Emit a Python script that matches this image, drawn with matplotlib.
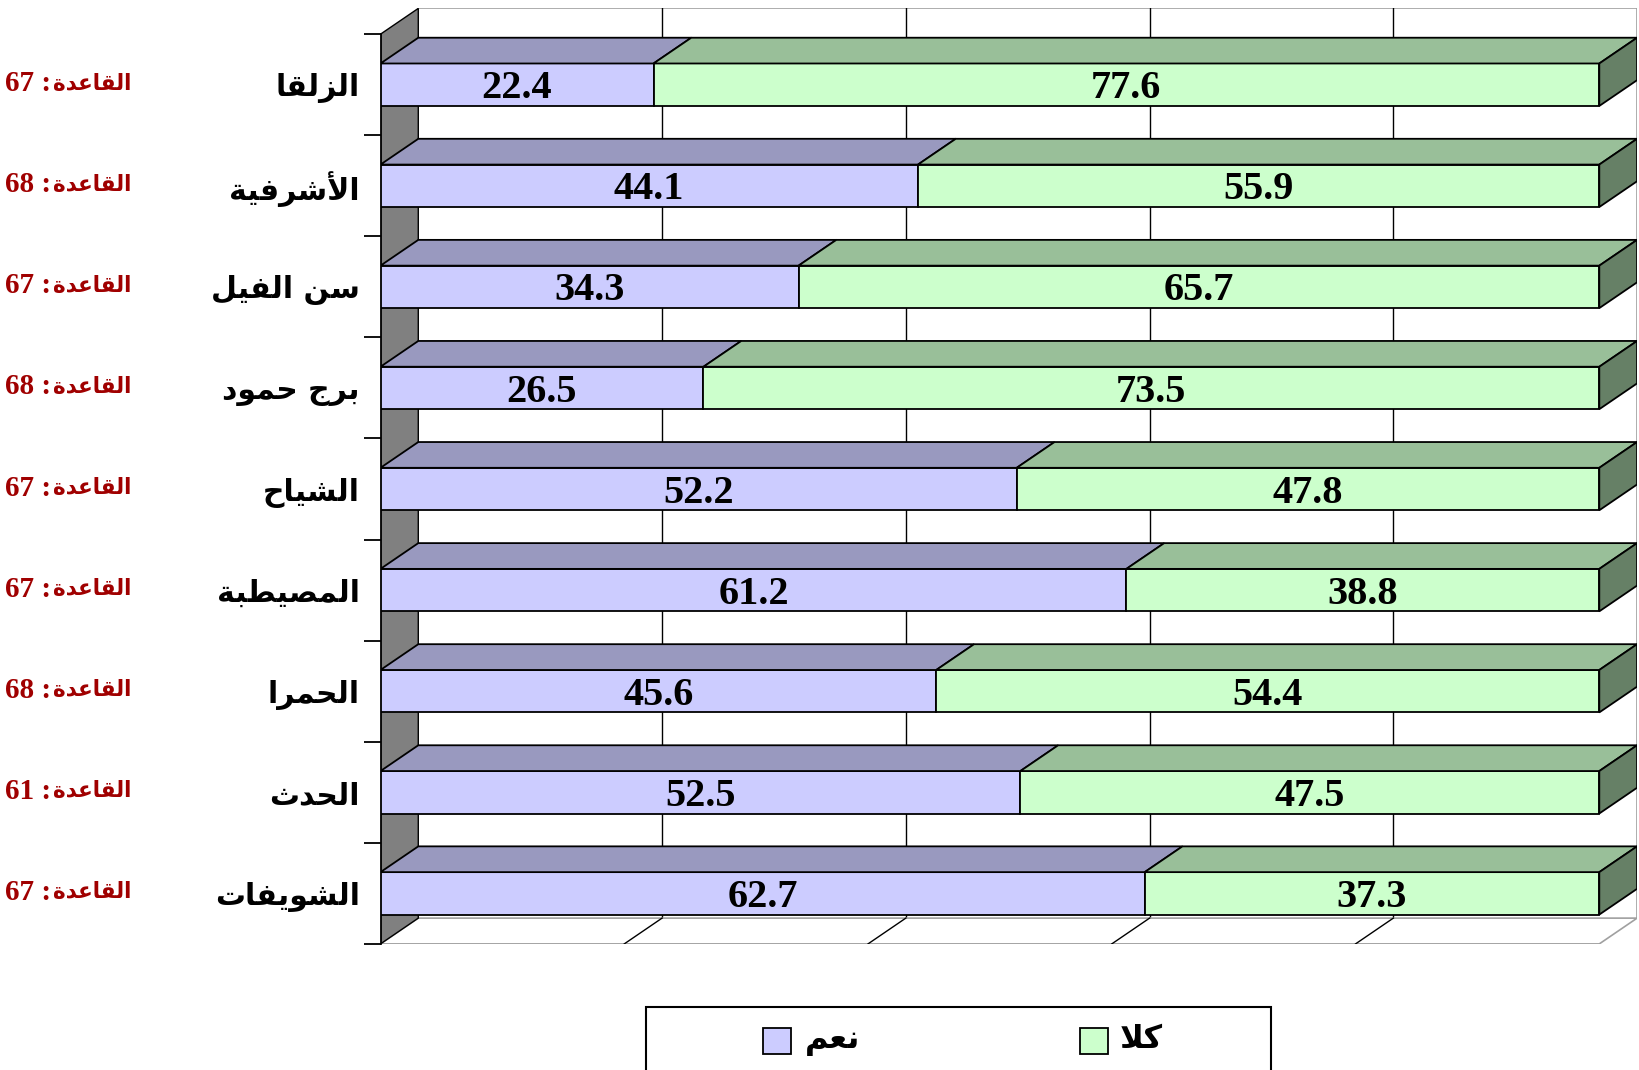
import numpy as np
import matplotlib
matplotlib.use('Agg')
from matplotlib import pyplot as plt
from matplotlib.patches import Polygon, Rectangle
from matplotlib import transforms


###########################################
#               Data
###########################################
categories = ['الزلقا', 'الأشرفية', 'سن الفيل', 'برج حمود', 'الشياح',
              'المصيطبة', 'الحمرا', 'الحدث', 'الشويفات']
yes_pct = [22.4, 44.1, 34.3, 26.5, 52.2, 61.2, 45.6, 52.5, 62.7]
no_pct = [77.6, 55.9, 65.7, 73.5, 47.8, 38.8, 54.4, 47.5, 37.3]
base_n = [67, 68, 67, 68, 67, 67, 68, 61, 67]
series_names = ['نعم', 'كلا']
base_word = 'القاعدة'

# colours (front face / top face / side face)
yes_front, yes_top = '#CCCCFF', '#9999BF'
no_front, no_top, no_side = '#CCFFCC', '#99BF99', '#668066'
wall_col = '#808080'
base_col = '#A00000'

###########################################
#   Arabic shaping (matplotlib has no bidi)
###########################################
# char -> (first presentation form, number of forms)
FORMS = {
    'آ': (0xFE81, 2), 'أ': (0xFE83, 2), 'إ': (0xFE87, 2), 'ا': (0xFE8D, 2),
    'ب': (0xFE8F, 4), 'ة': (0xFE93, 2), 'ت': (0xFE95, 4), 'ث': (0xFE99, 4),
    'ج': (0xFE9D, 4), 'ح': (0xFEA1, 4), 'خ': (0xFEA5, 4), 'د': (0xFEA9, 2),
    'ذ': (0xFEAB, 2), 'ر': (0xFEAD, 2), 'ز': (0xFEAF, 2), 'س': (0xFEB1, 4),
    'ش': (0xFEB5, 4), 'ص': (0xFEB9, 4), 'ض': (0xFEBD, 4), 'ط': (0xFEC1, 4),
    'ظ': (0xFEC5, 4), 'ع': (0xFEC9, 4), 'غ': (0xFECD, 4), 'ف': (0xFED1, 4),
    'ق': (0xFED5, 4), 'ك': (0xFED9, 4), 'ل': (0xFEDD, 4), 'م': (0xFEE1, 4),
    'ن': (0xFEE5, 4), 'ه': (0xFEE9, 4), 'و': (0xFEED, 2), 'ى': (0xFEEF, 2),
    'ي': (0xFEF1, 4),
}
LAMALEF = {'آ': 0xFEF5, 'أ': 0xFEF7, 'إ': 0xFEF9, 'ا': 0xFEFB}


def dual(c):
    return c in FORMS and FORMS[c][1] == 4


def shape(s):
    out = []
    i = 0
    while i < len(s):
        c = s[i]
        if c not in FORMS:
            out.append(c)
            i += 1
            continue
        left = i > 0 and dual(s[i-1])
        if c == 'ل' and i+1 < len(s) and s[i+1] in LAMALEF:
            out.append(chr(LAMALEF[s[i+1]] + (1 if left else 0)))
            i += 2
            continue
        right = dual(c) and i+1 < len(s) and s[i+1] in FORMS
        k = 3 if (left and right) else 2 if right else 1 if left else 0
        out.append(chr(FORMS[c][0] + k))
        i += 1
    return ''.join(reversed(out))


###########################################
#               Figure
###########################################
W, H = 1639, 1070
fig = plt.figure(figsize=(W/100, H/100), dpi=100)

n = len(categories)
y = np.arange(n)
DX = 3.1     # depth, x units
DY = 0.255   # depth, category units
BH = 0.42    # bar height

x0_px, x1_px = 380.5, 1599.3
top_px, bot_px = 8.4, 943.9
ppu = (x1_px - x0_px)/100
ax = fig.add_axes([x0_px/W, 1 - bot_px/H, (x1_px - x0_px + DX*ppu)/W, (bot_px - top_px)/H])
ax.set_xlim(0, 100 + DX)
ax.set_ylim(n - 0.5, -0.5 - DY)

yt, yb = -0.5, n - 0.5

# back wall
ax.add_patch(Rectangle((DX, yt - DY), 100, n, fc='white', ec='none', zorder=0))
ax.plot([DX, 100+DX, 100+DX], [yt-DY, yt-DY, yb-DY], color='#A0A0A0', lw=1.2, zorder=1)
for v in [20, 40, 60, 80]:
    ax.plot([v+DX, v+DX], [yt-DY, yb-DY], color='black', lw=1, zorder=1)

# floor
ax.add_patch(Polygon([(0, yb), (100, yb), (100+DX, yb-DY), (DX, yb-DY)],
                     closed=True, fc='white', ec='#A0A0A0', lw=1.2, zorder=1))
for v in [20, 40, 60, 80]:
    ax.plot([v, v+DX], [yb, yb-DY], color='black', lw=1, zorder=1)

# left wall
ax.add_patch(Polygon([(0, yt), (DX, yt-DY), (DX, yb-DY), (0, yb)],
                     closed=True, fc=wall_col, ec='black', lw=1, zorder=1))

# bars
yes_arr = np.array(yes_pct)
no_arr = np.array(no_pct)
ax.barh(y, yes_arr, height=BH, color=yes_front, edgecolor='black', lw=1.3, zorder=3)
ax.barh(y, no_arr, left=yes_arr, height=BH, color=no_front, edgecolor='black', lw=1.3, zorder=3)
for i in range(n):
    t = y[i] - BH/2
    b = y[i] + BH/2
    a, m, e = 0, yes_arr[i], yes_arr[i] + no_arr[i]
    ax.add_patch(Polygon([(a, t), (m, t), (m+DX, t-DY), (a+DX, t-DY)], closed=True,
                         fc=yes_top, ec='black', lw=1.3, zorder=3))
    ax.add_patch(Polygon([(m, t), (e, t), (e+DX, t-DY), (m+DX, t-DY)], closed=True,
                         fc=no_top, ec='black', lw=1.3, zorder=3))
    ax.add_patch(Polygon([(e, t), (e+DX, t-DY), (e+DX, b-DY), (e, b)], closed=True,
                         fc=no_side, ec='black', lw=1.3, zorder=3))
    ax.text(m/2, y[i] + 0.04, f'{yes_arr[i]:.1f}', ha='center', va='center',
            fontsize=29, fontweight='bold', family='Liberation Serif', zorder=4)
    ax.text(m + no_arr[i]/2, y[i] + 0.04, f'{no_arr[i]:.1f}', ha='center', va='center',
            fontsize=29, fontweight='bold', family='Liberation Serif', zorder=4)

# axes / ticks
for s in ['top', 'right', 'bottom']:
    ax.spines[s].set_visible(False)
ax.spines['left'].set_bounds(yt, yb)
ax.spines['left'].set_linewidth(1.3)
ax.set_xticks([])
ax.set_yticks(y)
ax.set_yticklabels([shape(c) for c in categories], fontsize=21.5, fontweight='bold',
                   family='DejaVu Sans')
ax.tick_params(axis='y', which='major', length=0, pad=15)
ax.set_yticks(np.arange(yt, yb + 0.01, 1), minor=True)
ax.tick_params(axis='y', which='minor', length=12, width=1.3, direction='out')
ax.patch.set_visible(False)

# base counts: Arabic word right-aligned, number + colon to its left
btr = transforms.blended_transform_factory(fig.transFigure, ax.transData)
for i in range(n):
    word = ax.text(131/W, y[i] - 0.01, shape(base_word), transform=btr,
                   ha='right', va='center', fontsize=15.5, fontweight='bold',
                   color=base_col, family='DejaVu Sans')
    ax.annotate(f'{base_n[i]} :', xy=(0, 0.5), xycoords=word,
                xytext=(-1, 0), textcoords='offset points',
                ha='right', va='center', fontsize=21, fontweight='bold',
                color=base_col, family='Liberation Serif')

# legend (box runs off the bottom of the figure, like the original)
fig.add_artist(Rectangle((646/W, -0.05), (1271-646)/W, 0.05 + (1070-1006.6)/H,
                         transform=fig.transFigure, fill=False, ec='black', lw=1.5))
for name, col, sx, tx in [(series_names[0], yes_front, 763, 805),
                          (series_names[1], no_front, 1080, 1120)]:
    fig.add_artist(Rectangle((sx/W, 1 - 1054/H), 28/W, 26/H, transform=fig.transFigure,
                             fc=col, ec='black', lw=1.3))
    fig.text(tx/W, 1 - 1040/H, shape(name), ha='left', va='center', fontsize=23,
             fontweight='bold', family='DejaVu Sans')

fig.savefig('out.png', dpi=100)
